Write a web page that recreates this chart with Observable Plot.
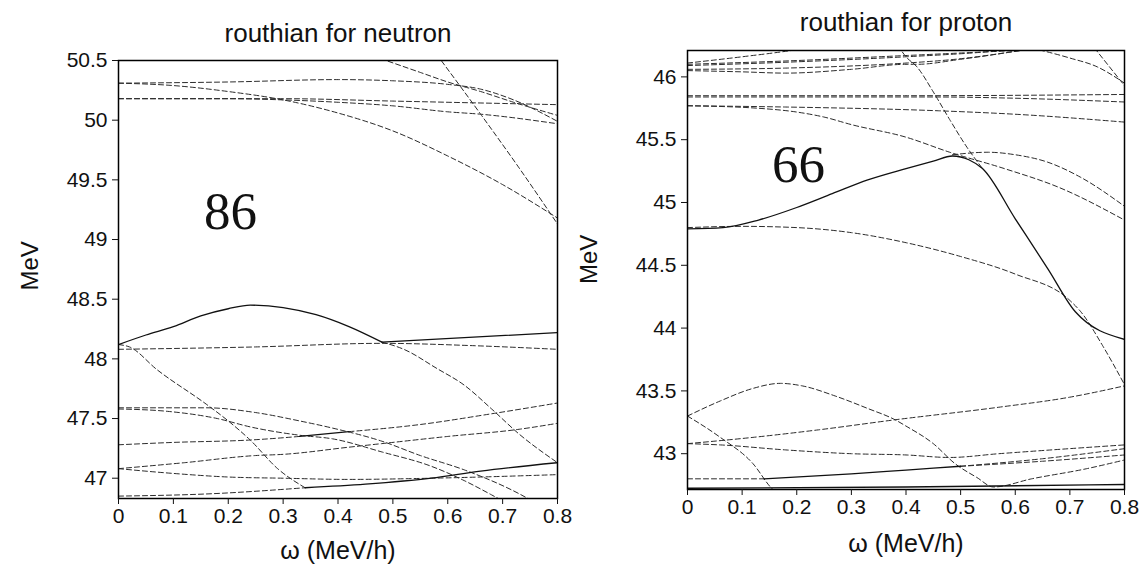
<!DOCTYPE html>
<html><head><meta charset="utf-8">
<script src="https://cdn.jsdelivr.net/npm/d3@7"></script>
<script src="https://cdn.jsdelivr.net/npm/@observablehq/plot@0.6"></script>
<style>
body{margin:0;background:#fff;}
#wrap{position:relative;width:1139px;height:564px;overflow:hidden;background:#fff;}
#wrap svg{position:absolute;top:0;overflow:visible;}
</style></head><body><div id="wrap"></div>
<script>
// ---------- tick values ----------
const xTicks = [0, 0.1, 0.2, 0.3, 0.4, 0.5, 0.6, 0.7, 0.8];
const neutronYTicks = [47, 47.5, 48, 48.5, 49, 49.5, 50, 50.5];
const protonYTicks = [43, 43.5, 44, 44.5, 45, 45.5, 46];
const neutronYDomain = [46.83, 50.5];
const protonYDomain = [42.715, 46.21];

// ---------- neutron routhians [omega, E] ----------
const nT1 = [[0,50.31],[0.1,50.29],[0.2,50.24],[0.3,50.17],[0.4,50.06],[0.5,49.91],[0.6,49.7],[0.7,49.46],[0.8,49.18]];
const nT2 = [[0,50.31],[0.2,50.32],[0.4,50.34],[0.5,50.33],[0.6,50.3],[0.66,50.26],[0.72,50.17],[0.8,49.99]];
const nT3 = [[0.45,50.56],[0.5,50.48],[0.55,50.4],[0.6,50.32],[0.66,50.24],[0.72,50.15],[0.8,50.04]];
const nT4 = [[0,50.18],[0.3,50.18],[0.5,50.16],[0.7,50.14],[0.8,50.13]];
const nT5 = [[0,50.18],[0.2,50.18],[0.3,50.17],[0.4,50.15],[0.5,50.12],[0.6,50.07],[0.66,50.05],[0.8,49.97]];
const nT6 = [[0.58,50.55],[0.66,50.05],[0.73,49.6],[0.8,49.13]];
const nPeakSolid = [[0,48.12],[0.05,48.2],[0.1,48.27],[0.15,48.36],[0.2,48.42],[0.24,48.45],[0.3,48.43],[0.36,48.37],[0.42,48.27],[0.48,48.14]];
const nUpperSolid = [[0.48,48.14],[0.8,48.22]];
const nFromPeak = [[0.48,48.14],[0.52,48.08],[0.58,47.92],[0.63,47.78],[0.68,47.58],[0.73,47.37],[0.8,47.13]];
const nFlat = [[0,48.08],[0.25,48.1],[0.48,48.13],[0.65,48.11],[0.8,48.08]];
const nSteep = [[0,48.12],[0.02,48.1],[0.07,47.91],[0.16,47.62],[0.2,47.48],[0.24,47.32],[0.29,47.08],[0.34,46.92]];
const nBottomDashed = [[0,46.85],[0.17,46.87],[0.34,46.92]];
const nBottomSolid = [[0.34,46.92],[0.45,46.95],[0.57,47.0],[0.66,47.06],[0.8,47.13]];
const nD1 = [[0,47.08],[0.1,47.04],[0.2,47.01],[0.3,47.0],[0.42,46.99],[0.57,47.0],[0.8,47.03]];
const nR2 = [[0,47.08],[0.12,47.13],[0.25,47.19],[0.3,47.2],[0.42,47.26],[0.48,47.29],[0.6,47.35],[0.73,47.41],[0.8,47.46]];
const nR1a = [[0,47.28],[0.1,47.3],[0.24,47.32],[0.33,47.35]];
const nR1Solid = [[0.33,47.35],[0.42,47.39]];
const nR1b = [[0.42,47.39],[0.55,47.45],[0.68,47.54],[0.8,47.63]];
const nP1 = [[0,47.59],[0.16,47.59],[0.25,47.55],[0.33,47.48],[0.39,47.42],[0.48,47.31],[0.55,47.19],[0.63,47.07],[0.73,46.87],[0.75,46.82]];
const nP2 = [[0,47.58],[0.09,47.56],[0.18,47.5],[0.24,47.43],[0.33,47.36],[0.39,47.33],[0.48,47.22],[0.57,47.1],[0.63,46.98],[0.68,46.86],[0.7,46.81]];

// ---------- proton routhians [omega, E] ----------
const pU1 = [[0,46.11],[0.1,46.16],[0.19,46.21],[0.22,46.23]];
const pU2 = [[0,46.1],[0.2,46.13],[0.4,46.17],[0.6,46.21],[0.65,46.22]];
const pU3 = [[0,46.09],[0.2,46.12],[0.4,46.16],[0.55,46.2],[0.6,46.22]];
const pU4 = [[0,46.06],[0.18,46.07],[0.4,46.11],[0.49,46.14],[0.61,46.21]];
const pU5 = [[0,46.05],[0.1,46.04],[0.18,46.03],[0.3,46.06],[0.4,46.1],[0.42,46.1],[0.5,46.14],[0.61,46.21]];
const pSteep = [[0.385,46.25],[0.4,46.16],[0.42,46.08],[0.45,45.88],[0.48,45.66],[0.51,45.45],[0.54,45.27]];
const pR1 = [[0.63,46.23],[0.7,46.15],[0.75,46.08],[0.8,45.95]];
const pR2 = [[0.745,46.23],[0.8,45.93]];
const pF1 = [[0,45.85],[0.4,45.85],[0.8,45.86]];
const pF2 = [[0,45.84],[0.45,45.84],[0.6,45.83],[0.8,45.8]];
const pM1 = [[0,45.77],[0.18,45.76],[0.46,45.73],[0.61,45.7],[0.8,45.64]];
const pM2 = [[0,45.77],[0.13,45.75],[0.2,45.72],[0.25,45.68],[0.3,45.62],[0.4,45.52],[0.48,45.4],[0.58,45.27],[0.68,45.12],[0.8,44.86]];
const pBump = [[0.485,45.38],[0.55,45.4],[0.6,45.38],[0.66,45.32],[0.72,45.2],[0.8,44.97]];
const pSolid = [[0,44.79],[0.065,44.8],[0.13,44.86],[0.2,44.96],[0.265,45.07],[0.33,45.18],[0.4,45.27],[0.45,45.33],[0.485,45.37],[0.515,45.34],[0.54,45.27],[0.6,44.87],[0.66,44.47],[0.71,44.13],[0.8,43.91]];
const pD1 = [[0,44.8],[0.1,44.81],[0.2,44.8],[0.3,44.76],[0.4,44.68],[0.5,44.57],[0.6,44.43],[0.7,44.22],[0.72,44.13],[0.76,43.86],[0.8,43.55]];
const pB1 = [[0,43.3],[0.06,43.42],[0.12,43.52],[0.17,43.56],[0.21,43.54],[0.27,43.46],[0.33,43.36],[0.38,43.27],[0.4,43.22],[0.45,43.08],[0.49,42.92],[0.53,42.81],[0.56,42.735],[0.63,42.8],[0.73,42.88],[0.8,42.95]];
const pB2 = [[0,43.3],[0.06,43.13],[0.12,42.92],[0.155,42.72],[0.16,42.7]];
const pB3 = [[0,43.08],[0.12,43.13],[0.24,43.19],[0.38,43.27],[0.57,43.37],[0.7,43.45],[0.8,43.54]];
const pB4 = [[0,43.08],[0.06,43.07],[0.18,43.03],[0.3,43.0],[0.4,42.99],[0.48,42.97],[0.57,43.0],[0.8,43.07]];
const pB5a = [[0,42.8],[0.14,42.8]];
const pB5Solid = [[0.14,42.8],[0.3,42.84],[0.4,42.87],[0.5,42.9]];
const pB5b = [[0.5,42.9],[0.65,42.96],[0.8,43.04]];
const pB6 = [[0.5,42.9],[0.65,42.94],[0.8,42.99]];
const pBottomSolid = [[0,42.725],[0.4,42.735],[0.8,42.755]];

const neutronDashed = [nT1,nT2,nT3,nT4,nT5,nT6,nFromPeak,nFlat,nSteep,nBottomDashed,nD1,nR2,nR1a,nR1b,nP1,nP2];
const neutronSolid = [nPeakSolid,nUpperSolid,nBottomSolid,nR1Solid];
const protonDashed = [pU1,pU2,pU3,pU4,pU5,pSteep,pR1,pR2,pF1,pF2,pM1,pM2,pBump,pD1,pB1,pB2,pB3,pB4,pB5a,pB5b,pB6];
const protonSolid = [pSolid,pB5Solid,pBottomSolid];

const rows = (curves) => curves.flatMap((pts, i) => pts.map(([w, E]) => ({id: i, w, E})));

function panel(o) {
  return Plot.plot({
    width: o.width, height: 564,
    marginLeft: o.ml, marginRight: o.mr, marginTop: o.mt, marginBottom: o.mb,
    x: {domain: [0, 0.8]},
    y: {domain: o.yDomain},
    style: {fontFamily: "'Liberation Sans', Arial, sans-serif", fontSize: "21px", color: "#111", background: "transparent", overflow: "visible"},
    marks: [
      Plot.line(rows(o.dashed), {x: "w", y: "E", z: "id", stroke: "#2b2b2b", strokeWidth: 1, strokeDasharray: "5,3", curve: "monotone-x", clip: true}),
      Plot.line(rows(o.solid), {x: "w", y: "E", z: "id", stroke: "#111", strokeWidth: 1.3, curve: "monotone-x", clip: true}),
      Plot.frame({stroke: "#000", strokeWidth: 1.5}),
      Plot.axisX({ticks: xTicks, tickFormat: String, tickSize: 6, tickPadding: 4, label: null}),
      Plot.axisY({ticks: o.yTicks, tickFormat: String, tickSize: 6, tickPadding: 5, label: null}),
      Plot.text([o.title], {frameAnchor: "top", dy: o.titleDy, fontSize: 26, lineAnchor: "middle"}),
      Plot.text(["ω (MeV/h)"], {frameAnchor: "bottom", dy: o.xlabDy, fontSize: 25, lineAnchor: "middle"}),
      Plot.text(["MeV"], {frameAnchor: "left", dx: o.ylabDx, dy: o.ylabDy, rotate: -90, fontSize: 24, lineAnchor: "middle"}),
      Plot.text([o.number], {frameAnchor: "top-left", dx: o.numDx, dy: o.numDy, fontSize: 53, fontFamily: "'Liberation Serif', 'Times New Roman', serif", textAnchor: "middle", lineAnchor: "middle"})
    ]
  });
}

const left = panel({width: 600, ml: 118, mr: 43, mt: 60, mb: 66, yDomain: neutronYDomain, yTicks: neutronYTicks,
  dashed: neutronDashed, solid: neutronSolid, title: "routhian for neutron", number: "86",
  titleDy: -27, xlabDy: 52, ylabDx: -88, ylabDy: 11, numDx: 112, numDy: 152});
const right = panel({width: 569, ml: 117, mr: 15, mt: 50, mb: 75, yDomain: protonYDomain, yTicks: protonYTicks,
  dashed: protonDashed, solid: protonSolid, title: "routhian for proton", number: "66",
  titleDy: -28, xlabDy: 54, ylabDx: -98, ylabDy: 14, numDx: 111, numDy: 115});
left.style.left = "0px";
right.style.left = "570px";
const wrap = document.getElementById("wrap");
wrap.appendChild(left);
wrap.appendChild(right);
</script></body></html>
